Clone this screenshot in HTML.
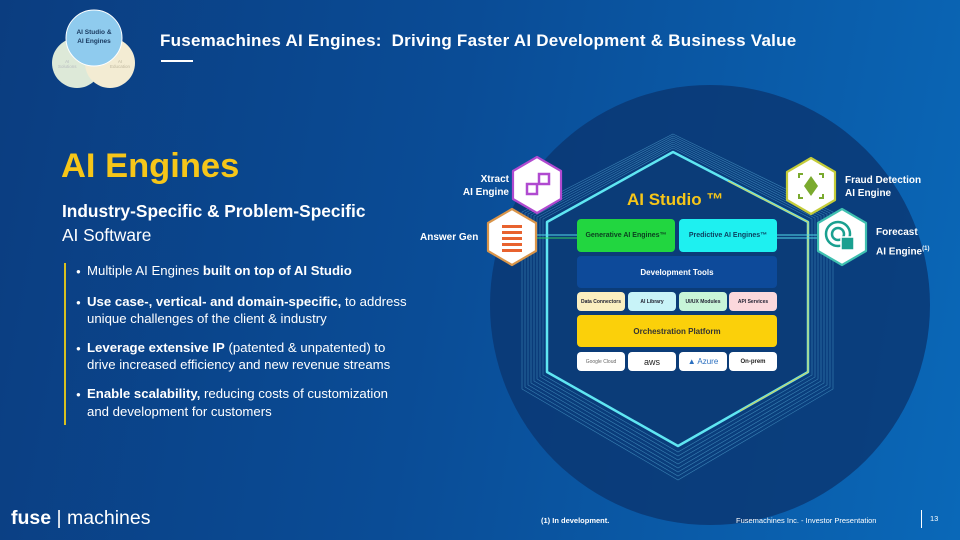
<!DOCTYPE html>
<html><head><meta charset="utf-8"><style>
*{margin:0;padding:0;box-sizing:border-box}
body{width:960px;height:540px;overflow:hidden;font-family:"Liberation Sans",sans-serif;background:linear-gradient(100deg,#0b3d80 0%,#0a4c96 45%,#0a68b8 100%);position:relative;color:#fff}
.a{position:absolute}
.b{font-weight:bold}
.box{position:absolute;border-radius:4px;display:flex;align-items:center;justify-content:center;font-weight:bold;text-align:center}
.lbl{position:absolute;font-size:10px;font-weight:bold;line-height:13px}
.bul{position:absolute;left:76px;width:336px;font-size:13.2px;line-height:16.5px;color:#fff;padding-left:11px;text-indent:-11px}
.bul i{font-style:normal;font-size:8px;display:inline-block;width:11px;text-indent:0;vertical-align:1px}
</style></head><body>
<svg class="a" style="left:0;top:0" width="960" height="540">
<circle cx="710" cy="305" r="220" fill="#0a3670" opacity="0.8"/>
<circle cx="77" cy="63" r="25" fill="#dde9d8"/>
<circle cx="110" cy="63" r="25" fill="#f3ecd3"/>
<circle cx="94" cy="38" r="28" fill="#8fcbee" stroke="#fff" stroke-width="1"/>
<g fill="none" stroke="#5fb8e0" stroke-width="0.6" opacity="0.55">
<polygon points="673,148 812,219 812,375 678,452 543,375 543,219"/>
<polygon points="673,146 815,218 815,377 678,456 540,377 540,218"/>
<polygon points="673,144 818,217 818,379 678,460 537,379 537,217"/>
<polygon points="673,142 821,216 821,381 678,464 534,381 534,216"/>
<polygon points="673,140 824,215 824,383 678,468 531,383 531,215"/>
<polygon points="673,138 827,214 827,385 678,472 528,385 528,214"/>
<polygon points="673,136 830,213 830,387 678,476 525,387 525,213"/>
<polygon points="673,134 833,212 833,389 678,480 522,389 522,212"/>
</g>
<polygon points="673,152 808,222 808,372 678,446 547,372 547,222" fill="#0b3c78" stroke="#5fe6f2" stroke-width="2.5" stroke-linejoin="round"/>
<polyline points="728,181 808,222 808,372 740,411" fill="none" stroke="#e8d040" stroke-width="1.2" opacity="0.8"/>
<line x1="535" y1="235" x2="577" y2="235" stroke="#50d8e8" stroke-width="1"/>
<line x1="535" y1="238" x2="577" y2="238" stroke="#30d060" stroke-width="1"/>
<line x1="777" y1="235" x2="820" y2="235" stroke="#50d8e8" stroke-width="1"/>
<line x1="777" y1="238" x2="820" y2="238" stroke="#50d8e8" stroke-width="1"/>
<g stroke-width="2.2" stroke-linejoin="round">
<polygon points="537,157 561,171 561,199 537,213 513,199 513,171" fill="#fff" stroke="#b04ad0"/>
<polygon points="512,209 536,223 536,251 512,265 488,251 488,223" fill="#fff" stroke="#d9954a"/>
<polygon points="811,158 835,172 835,200 811,214 787,200 787,172" fill="#fff" stroke="#c4cc3a"/>
<polygon points="842,209 866,223 866,251 842,265 818,251 818,223" fill="#fff" stroke="#3fc0b0"/>
</g>
<rect x="527" y="184" width="10" height="10" fill="none" stroke="#b04ad0" stroke-width="2.5"/>
<rect x="539" y="174" width="10" height="10" fill="none" stroke="#b04ad0" stroke-width="2.5"/>
<g fill="#e8622e"><rect x="502" y="225" width="20" height="3"/><rect x="502" y="231" width="20" height="3"/><rect x="502" y="237" width="20" height="3"/><rect x="502" y="243" width="20" height="3"/><rect x="502" y="249" width="20" height="3"/></g>
<g fill="#7aaa2e"><polygon points="811,176 818,186 811,196 804,186"/></g>
<g fill="none" stroke="#7aaa2e" stroke-width="2"><polyline points="799,178 799,174 803,174"/><polyline points="823,178 823,174 819,174"/><polyline points="799,194 799,198 803,198"/><polyline points="823,194 823,198 819,198"/></g>
<circle cx="838" cy="234" r="12" fill="none" stroke="#1aa090" stroke-width="2.5"/>
<circle cx="838" cy="234" r="6" fill="none" stroke="#1aa090" stroke-width="2.5"/>
<rect x="841" y="237" width="13" height="13" fill="#1aa090" stroke="#fff" stroke-width="1.5"/>
</svg>
<div class="a" style="left:64px;top:28px;width:60px;font-size:6.5px;font-weight:bold;color:#1a3a60;text-align:center;line-height:9px">AI Studio &amp;<br>AI Engines</div>
<div class="a" style="left:58px;top:59px;font-size:4.5px;color:#b8bcc0;text-align:center">AI<br>Solutions</div>
<div class="a" style="left:110px;top:59px;font-size:4.5px;color:#c0b8a0;text-align:center">AI<br>Education</div>
<div class="a b" style="left:160px;top:31px;font-size:17px;letter-spacing:0.25px">Fusemachines AI Engines:&nbsp; Driving Faster AI Development &amp; Business Value</div>
<div class="a" style="left:161px;top:60px;width:32px;height:2px;background:#fff"></div>
<div class="a b" style="left:61px;top:147px;font-size:34.5px;color:#f6c619">AI Engines</div>
<div class="a" style="left:62px;top:199px;font-size:17.3px;line-height:24px"><b>Industry-Specific &amp; Problem-Specific</b><br>AI Software</div>
<div class="a" style="left:64px;top:263px;width:2px;height:162px;background:#d8c020"></div>
<div class="bul" style="top:263px"><i>●</i>Multiple AI Engines <b>built on top of AI Studio</b></div>
<div class="bul" style="top:293.5px"><i>●</i><b>Use case-, vertical- and domain-specific,</b> to address unique challenges of the client &amp; industry</div>
<div class="bul" style="top:339.5px"><i>●</i><b>Leverage extensive IP</b> (patented &amp; unpatented) to drive increased efficiency and new revenue streams</div>
<div class="bul" style="top:386px"><i>●</i><b>Enable scalability,</b> reducing costs of customization and development for customers</div>
<div class="lbl" style="left:440px;top:173px;width:69px;text-align:right">Xtract<br>AI Engine</div>
<div class="lbl" style="left:420px;top:231px">Answer Gen</div>
<div class="lbl" style="left:845px;top:174px">Fraud Detection<br>AI Engine</div>
<div class="lbl" style="left:876px;top:225px;line-height:16px">Forecast<br>AI Engine<sup style="font-size:6px">(1)</sup></div>
<div class="a b" style="left:627px;top:190px;font-size:17px;color:#f6c619">AI Studio ™</div>
<div class="box" style="left:577px;top:219px;width:98px;height:33px;background:#22d640;color:#0c3e20;font-size:7px">Generative AI Engines™</div>
<div class="box" style="left:679px;top:219px;width:98px;height:33px;background:#1ef0f0;color:#0c4060;font-size:7px">Predictive AI Engines™</div>
<div class="box" style="left:577px;top:256px;width:200px;height:32px;background:#0d4a9a;font-size:8px">Development Tools</div>
<div class="box" style="left:577px;top:292px;width:48px;height:19px;background:#fbefc0;color:#223;font-size:5px">Data Connectors</div>
<div class="box" style="left:628px;top:292px;width:48px;height:19px;background:#c8f3f8;color:#223;font-size:5px">AI Library</div>
<div class="box" style="left:679px;top:292px;width:48px;height:19px;background:#c8f5d8;color:#223;font-size:5px">UI/UX Modules</div>
<div class="box" style="left:729px;top:292px;width:48px;height:19px;background:#fbd8dc;color:#223;font-size:5px">API Services</div>
<div class="box" style="left:577px;top:315px;width:200px;height:32px;background:#fbd00a;color:#333;font-size:8px">Orchestration Platform</div>
<div class="box" style="left:577px;top:352px;width:48px;height:19px;background:#fff;color:#666;font-size:5px;font-weight:normal">Google Cloud</div>
<div class="box" style="left:628px;top:352px;width:48px;height:19px;background:#fff;color:#222;font-size:9px;font-weight:normal">aws</div>
<div class="box" style="left:679px;top:352px;width:48px;height:19px;background:#fff;color:#2a6fc0;font-size:8px;font-weight:normal">▲ Azure</div>
<div class="box" style="left:729px;top:352px;width:48px;height:19px;background:#fff;color:#222;font-size:6px">On-prem</div>
<div class="a" style="left:11px;top:507px;font-size:19.5px"><b>fuse</b><span style="font-weight:300"> | machines</span></div>
<div class="a b" style="left:541px;top:516px;font-size:7.5px">(1) In development.</div>
<div class="a" style="left:736px;top:516px;font-size:7.5px">Fusemachines Inc. - Investor Presentation</div>
<div class="a" style="left:921px;top:510px;width:1px;height:18px;background:#fff"></div>
<div class="a" style="left:930px;top:514px;font-size:7.5px">13</div>
</body></html>
